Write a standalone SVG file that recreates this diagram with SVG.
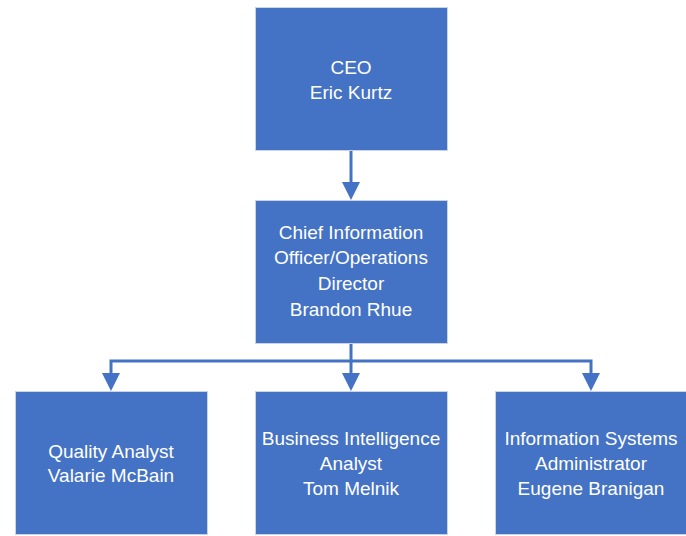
<svg xmlns="http://www.w3.org/2000/svg" width="686" height="536" viewBox="0 0 686 536">
<style>
.box{fill:#4472C4;stroke:#C9D3E6;stroke-width:1}
.t{font-family:"Liberation Sans","Noto Sans",Arial,sans-serif;font-size:19px;fill:#fff;text-anchor:middle}
.c{fill:none;stroke:#4472C4;stroke-width:3}
</style>
<defs>
<marker id="ah" markerWidth="18" markerHeight="18" refX="8" refY="9" orient="auto" markerUnits="userSpaceOnUse">
<path d="M0,0 L18,9 L0,18 Z" fill="#4472C4"/>
</marker>
</defs>
<rect width="686" height="536" fill="#fff"/>
<g id="connectors">
<path class="c" d="M351,150 V190" marker-end="url(#ah)"/>
<path class="c" d="M351,343 V361 H111 V381" marker-end="url(#ah)"/>
<path class="c" d="M351,361 V381" marker-end="url(#ah)"/>
<path class="c" d="M351,361 H591 V381" marker-end="url(#ah)"/>
</g>
<g id="ceo">
<rect class="box" x="255.5" y="7.5" width="192" height="143"/>
<text class="t" x="351" y="74">CEO</text>
<text class="t" x="351" y="99">Eric Kurtz</text>
</g>
<g id="cio">
<rect class="box" x="255.5" y="200.5" width="192" height="143"/>
<text class="t" x="351" y="239">Chief Information</text>
<text class="t" x="351" y="264">Officer/Operations</text>
<text class="t" x="351" y="290">Director</text>
<text class="t" x="351" y="316">Brandon Rhue</text>
</g>
<g id="qa">
<rect class="box" x="15.5" y="391.5" width="192" height="143"/>
<text class="t" x="111" y="458">Quality Analyst</text>
<text class="t" x="111" y="482">Valarie McBain</text>
</g>
<g id="bi">
<rect class="box" x="255.5" y="391.5" width="192" height="143"/>
<text class="t" x="351" y="445">Business Intelligence</text>
<text class="t" x="351" y="470">Analyst</text>
<text class="t" x="351" y="495">Tom Melnik</text>
</g>
<g id="isa">
<rect class="box" x="495.5" y="391.5" width="192" height="143"/>
<text class="t" x="591" y="445">Information Systems</text>
<text class="t" x="591" y="470">Administrator</text>
<text class="t" x="591" y="495">Eugene Branigan</text>
</g>
</svg>
